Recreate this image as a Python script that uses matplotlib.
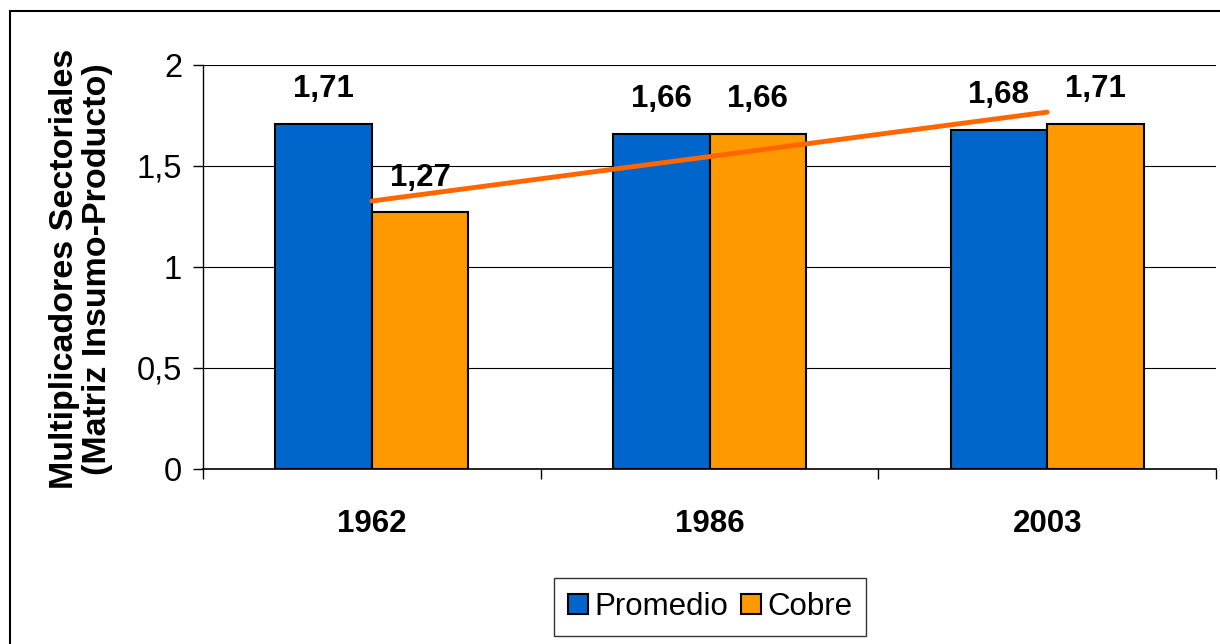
import numpy as np
import matplotlib.pyplot as plt
from matplotlib.patches import Rectangle

plt.rcParams['font.family'] = ['Liberation Sans', 'DejaVu Sans']

# Data
years = ['1962', '1986', '2003']
promedio = [1.71, 1.66, 1.68]
cobre = [1.27, 1.66, 1.71]
y_ticks = [0, 0.5, 1, 1.5, 2]
y_tick_labels = ['0', '0,5', '1', '1,5', '2']

blue = '#0066CC'
orange = '#FF9900'
trend_color = '#FF6600'

fig = plt.figure(figsize=(12.2, 6.44), dpi=100)
ax = fig.add_axes([203/1220, 1 - 469/644, (1216 - 203)/1220, (469 - 65)/644])

x = np.arange(len(years))
w = 1 / 3.5  # gap width 150%

ax.bar(x - w/2, promedio, w, color=blue, edgecolor='black', linewidth=1.5,
       label='Promedio', zorder=3)
ax.bar(x + w/2, cobre, w, color=orange, edgecolor='black', linewidth=1.5,
       label='Cobre', zorder=3)

# value labels
for xi, v in zip(x - w/2, promedio):
    ax.annotate(f'{v:.2f}'.replace('.', ','), (xi, v), xytext=(0, 14),
                textcoords='offset points', ha='center', va='bottom',
                fontsize=22.5, fontweight='bold', zorder=5)
for xi, v in zip(x + w/2, cobre):
    ax.annotate(f'{v:.2f}'.replace('.', ','), (xi, v), xytext=(0, 14),
                textcoords='offset points', ha='center', va='bottom',
                fontsize=22.5, fontweight='bold', zorder=5)

# linear trend line of Cobre
coef = np.polyfit(x, cobre, 1)
ax.plot(x, np.polyval(coef, x), color=trend_color, linewidth=3.5,
        solid_capstyle='round', zorder=6)

ax.set_xlim(-0.5, 2.5)
ax.set_ylim(0, 2)
ax.set_yticks(y_ticks)
ax.set_yticklabels(y_tick_labels, fontsize=23.5)
ax.tick_params(axis='y', direction='out', length=7, width=1, pad=8)

ax.set_xticks(x)
ax.set_xticklabels(years, fontsize=22.5, fontweight='bold')
ax.tick_params(axis='x', which='major', length=0, pad=29)
ax.set_xticks([-0.5, 0.5, 1.5, 2.5], minor=True)
ax.tick_params(axis='x', which='minor', direction='out', length=7, width=1)

ax.grid(axis='y', color='black', linewidth=0.8, zorder=0)
ax.set_axisbelow(True)
for s in ['top', 'right']:
    ax.spines[s].set_visible(False)
ax.spines['left'].set_linewidth(1)
ax.spines['bottom'].set_linewidth(1.2)

fig.text(81/1220, 1 - 269/644,
         'Multiplicadores Sectoriales\n(Matriz Insumo-Producto)',
         rotation=90, ha='center', va='center', multialignment='center',
         fontsize=24.5, fontweight='bold', linespacing=1.1)

leg = fig.legend(loc='center', bbox_to_anchor=(710/1220, 1 - 607/644),
                 ncol=2, fontsize=22.5, frameon=True, fancybox=False,
                 edgecolor='black', handlelength=0.65, handleheight=0.65,
                 handletextpad=0.2, columnspacing=0.4, borderpad=0.45,
                 borderaxespad=0.2)
leg.get_frame().set_linewidth(1)

# outer chart border
fig.patches.append(Rectangle((10/1220, -0.1), 1.2, 1 - 11/644 + 0.1,
                             transform=fig.transFigure, fill=False,
                             edgecolor='black', linewidth=1.5))

fig.savefig('out.png', dpi=100)
